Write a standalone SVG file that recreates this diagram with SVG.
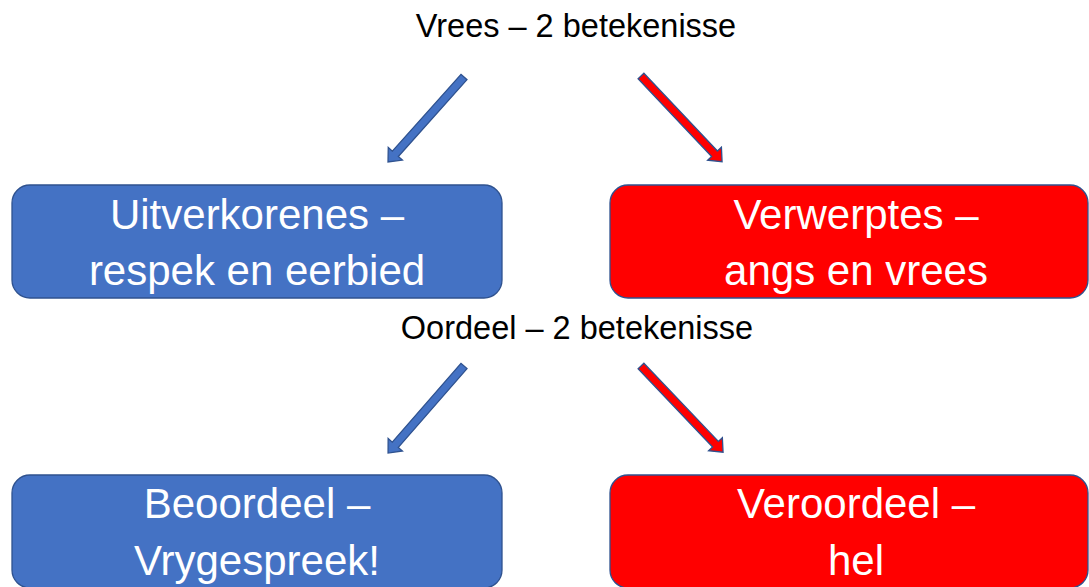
<svg xmlns="http://www.w3.org/2000/svg" width="1089" height="587" viewBox="0 0 1089 587">
<style>
.title{font-family:"Liberation Sans",Arial,sans-serif;font-size:32.5px;fill:#000;text-anchor:middle}
.lbl{font-family:"Liberation Sans",Arial,sans-serif;font-size:42px;fill:#fff;text-anchor:middle}
.blue{fill:#4472C4;stroke:#2F528F;stroke-width:1.3}
.red{fill:#FF0000;stroke:#2F528F;stroke-width:1.3}
</style>
<rect width="1089" height="587" fill="#fff"/>
<g id="title1"><text class="title" x="576" y="37">Vrees – 2 betekenisse</text></g>
<g id="title2"><text class="title" x="577" y="339">Oordeel – 2 betekenisse</text></g>
<g id="connectors">
<path class="blue" transform="translate(464,77) rotate(131.8)" d="M0,-4 L103,-4 L103,-9.5 L114,0 L103,9.5 L103,4 L0,4 Z"/>
<path class="red" transform="translate(641,76) rotate(46.6)" d="M0,-4 L107,-4 L107,-9.5 L118,0 L107,9.5 L107,4 L0,4 Z"/>
<path class="blue" transform="translate(464,366) rotate(131.1)" d="M0,-4 L104.5,-4 L104.5,-9.5 L115.5,0 L104.5,9.5 L104.5,4 L0,4 Z"/>
<path class="red" transform="translate(641,366) rotate(46.4)" d="M0,-4 L108,-4 L108,-9.5 L119,0 L108,9.5 L108,4 L0,4 Z"/>
</g>
<g id="uitverkorenes">
<rect class="blue" x="12" y="185" width="490" height="113" rx="18"/>
<text class="lbl" x="257" y="229">Uitverkorenes –</text>
<text class="lbl" x="257" y="285">respek en eerbied</text>
</g>
<g id="verwerptes">
<rect class="red" x="610" y="185" width="478" height="113" rx="18"/>
<text class="lbl" x="856" y="229">Verwerptes –</text>
<text class="lbl" x="856" y="285">angs en vrees</text>
</g>
<g id="beoordeel">
<rect class="blue" x="12" y="475" width="490" height="113" rx="18"/>
<text class="lbl" x="257" y="518">Beoordeel –</text>
<text class="lbl" x="257" y="575">Vrygespreek!</text>
</g>
<g id="veroordeel">
<rect class="red" x="610" y="475" width="478" height="113" rx="18"/>
<text class="lbl" x="856" y="518">Veroordeel –</text>
<text class="lbl" x="856" y="575">hel</text>
</g>
</svg>
